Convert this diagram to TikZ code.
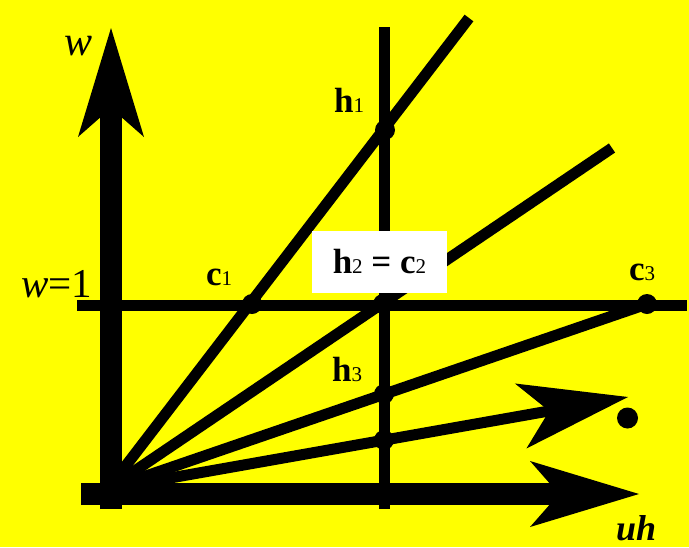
\documentclass[tikz,border=0pt]{standalone}
\usepackage{fontspec}
\setmainfont{Liberation Serif}
\usetikzlibrary{arrows.meta}
\definecolor{pjYellow}{HTML}{FFFF00}
\definecolor{pjInk}{HTML}{000000}
\newcommand{\ptlab}[2]{\textbf{#1}{\fontsize{21pt}{21pt}\selectfont #2}}
\tikzset{
  bigtip/.style={-{Stealth[length=109pt, width=66pt, inset=29pt, line width=0pt]}},
  axis/.style={bigtip, line width=22pt, draw=pjInk},
  ray/.style={line width=11pt, draw=pjInk},
  rayarrow/.style={ray, bigtip},
  dot/.style={circle, fill=pjInk, minimum size=20pt, inner sep=0pt},
  lab/.style={font=\fontsize{35pt}{35pt}\selectfont, inner sep=0pt, anchor=base west, text=pjInk},
  eqbox/.style={fill=white, minimum width=135pt, minimum height=62pt, inner sep=0pt,
    font=\fontsize{35pt}{35pt}\selectfont, text=pjInk},
}

\begin{document}
\begin{tikzpicture}[x=1pt, y=-1pt]
  \fill[pjYellow] (0,0) rectangle (689,547);
  \useasboundingbox (0,0) rectangle (689,547);

  % axes and guide lines
  \coordinate (O) at (108,489);
  \coordinate (wbot) at (111,509);
  \coordinate (wtop) at (111,28);
  \coordinate (uleft) at (81,494);
  \coordinate (uright) at (639,494);
  \coordinate (lineL) at (77,305);
  \coordinate (lineR) at (687,305);
  \coordinate (vtop) at (384.5,27);
  \coordinate (vbot) at (384.5,509);
  \coordinate (r1) at (469,18);
  \coordinate (r2) at (612,148);
  \coordinate (r3) at (647,304);
  \coordinate (r4) at (628,397);

  \draw[ray] (lineL) -- (lineR);
  \draw[ray] (vtop) -- (vbot);
  \draw[ray] (O) -- (r1);
  \draw[ray] (O) -- (r2);
  \draw[ray] (O) -- (r3);
  \draw[rayarrow] (O) -- (r4);
  \draw[axis] (wbot) -- (wtop);
  \draw[axis] (uleft) -- (uright);

  % points
  \node[dot] (h1) at (385,130) {};
  \node[dot] (c1) at (252,304) {};
  \node[dot] (c2) at (383,304) {};
  \node[dot] (c3) at (647,304) {};
  \node[dot] (h3) at (384,394) {};
  \node[dot] (q4) at (384,440) {};
  \node[dot, minimum size=21pt] (pinf) at (627.5,418) {};

  % labels
  \node[eqbox] (h2) at (379.5,262) {\ptlab{h}{2} \textbf{=} \ptlab{c}{2}};
  \node[lab, font=\fontsize{42pt}{42pt}\selectfont\itshape] (wlab) at (64,55) {w};
  \node[lab, font=\fontsize{41pt}{41pt}\selectfont] (onelab) at (21,297) {\textit{w}=1};
  \node[lab] (c1lab) at (206,285) {\ptlab{c}{1}};
  \node[lab] (h1lab) at (334,112) {\ptlab{h}{1}};
  \node[lab] (c3lab) at (629,280) {\ptlab{c}{3}};
  \node[lab] (h3lab) at (332,381) {\ptlab{h}{3}};
  \node[lab, font=\fontsize{36pt}{36pt}\selectfont\bfseries\itshape] (uhlab) at (616,540) {uh};
\end{tikzpicture}
\end{document}
